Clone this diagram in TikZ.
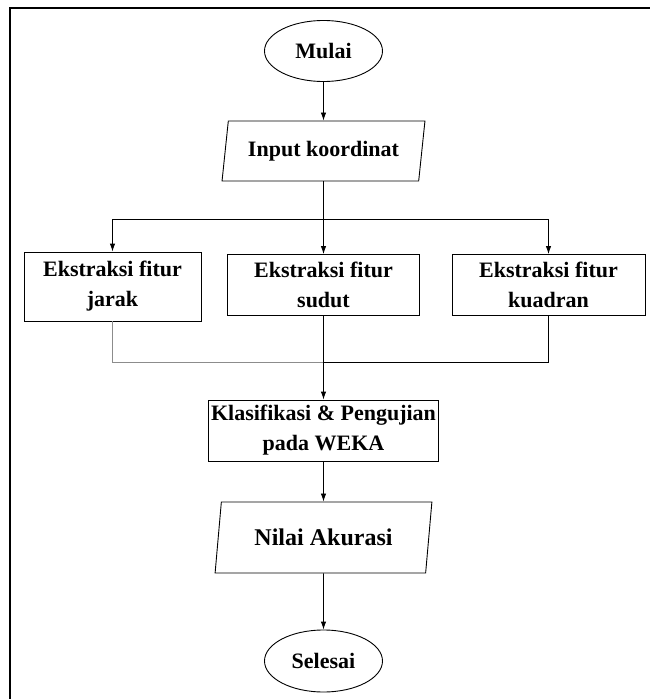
\documentclass[tikz,border=0pt]{standalone}
\usepackage{fontspec}
\setmainfont{Liberation Serif}
\usepackage{tikz}
\usetikzlibrary{arrows.meta, shapes.geometric}

\begin{document}
\begin{tikzpicture}[->, >={Latex[length=8pt, width=5.5pt]}, line width=0.9pt, node distance=100pt,
	every node/.style={font=\bfseries\fontsize{22}{30}\selectfont, align=center, inner sep=0pt},
	terminal/.style={ellipse, draw, minimum width=118pt, minimum height=61pt},
	io/.style={trapezium, trapezium left angle=76, trapezium right angle=104, trapezium stretches=true, draw, minimum height=60pt},
	process/.style={rectangle, draw, minimum height=61pt}]
	\useasboundingbox (-323.5pt,51pt) rectangle (325.5pt,-648pt);
	\draw[-, line width=2.4pt] (-313.5pt,-660pt) -- (-313.5pt,43pt) -- (340pt,43pt);

	\node[terminal] (start) {Mulai};
	\node[io, minimum width=203pt] (input) [below of=start] {Input koordinat};
	\coordinate[below of=input, yshift=32pt] (split);
	\node[process, minimum width=192pt] (ext2) [below of=input, yshift=-34pt] {Ekstraksi fitur\\sudut};
	\node[process, minimum width=177pt, minimum height=69pt] (ext1) [left of=ext2, xshift=-111pt, yshift=-1.5pt] {Ekstraksi fitur\\jarak};
	\node[process, minimum width=193pt] (ext3) [right of=ext2, xshift=125pt] {Ekstraksi fitur\\kuadran};
	\coordinate[below of=ext2, yshift=23pt] (join);
	\node[process, minimum width=230pt] (klas) [below of=ext2, yshift=-45.5pt] {Klasifikasi \& Pengujian\\pada WEKA};
	\node[io, minimum width=217pt, minimum height=71pt, font=\bfseries\fontsize{24}{30}\selectfont] (nilai) [below of=klas, yshift=-7pt] {Nilai Akurasi};
	\node[terminal, minimum height=62pt] (end) [below of=nilai, yshift=-23.5pt] {Selesai};

	\draw (start) -- (input);
	\draw[-] (input) -- (split);
	\draw (split) -| (ext1);
	\draw (split) -- (ext2);
	\draw (split) -| (ext3);
	\draw[-, black!45] (ext1) |- (join);
	\draw[-] (ext3) |- (join);
	\draw (ext2) -- (klas);
	\draw (klas) -- (nilai);
	\draw (nilai) -- (end);
\end{tikzpicture}
\end{document}
